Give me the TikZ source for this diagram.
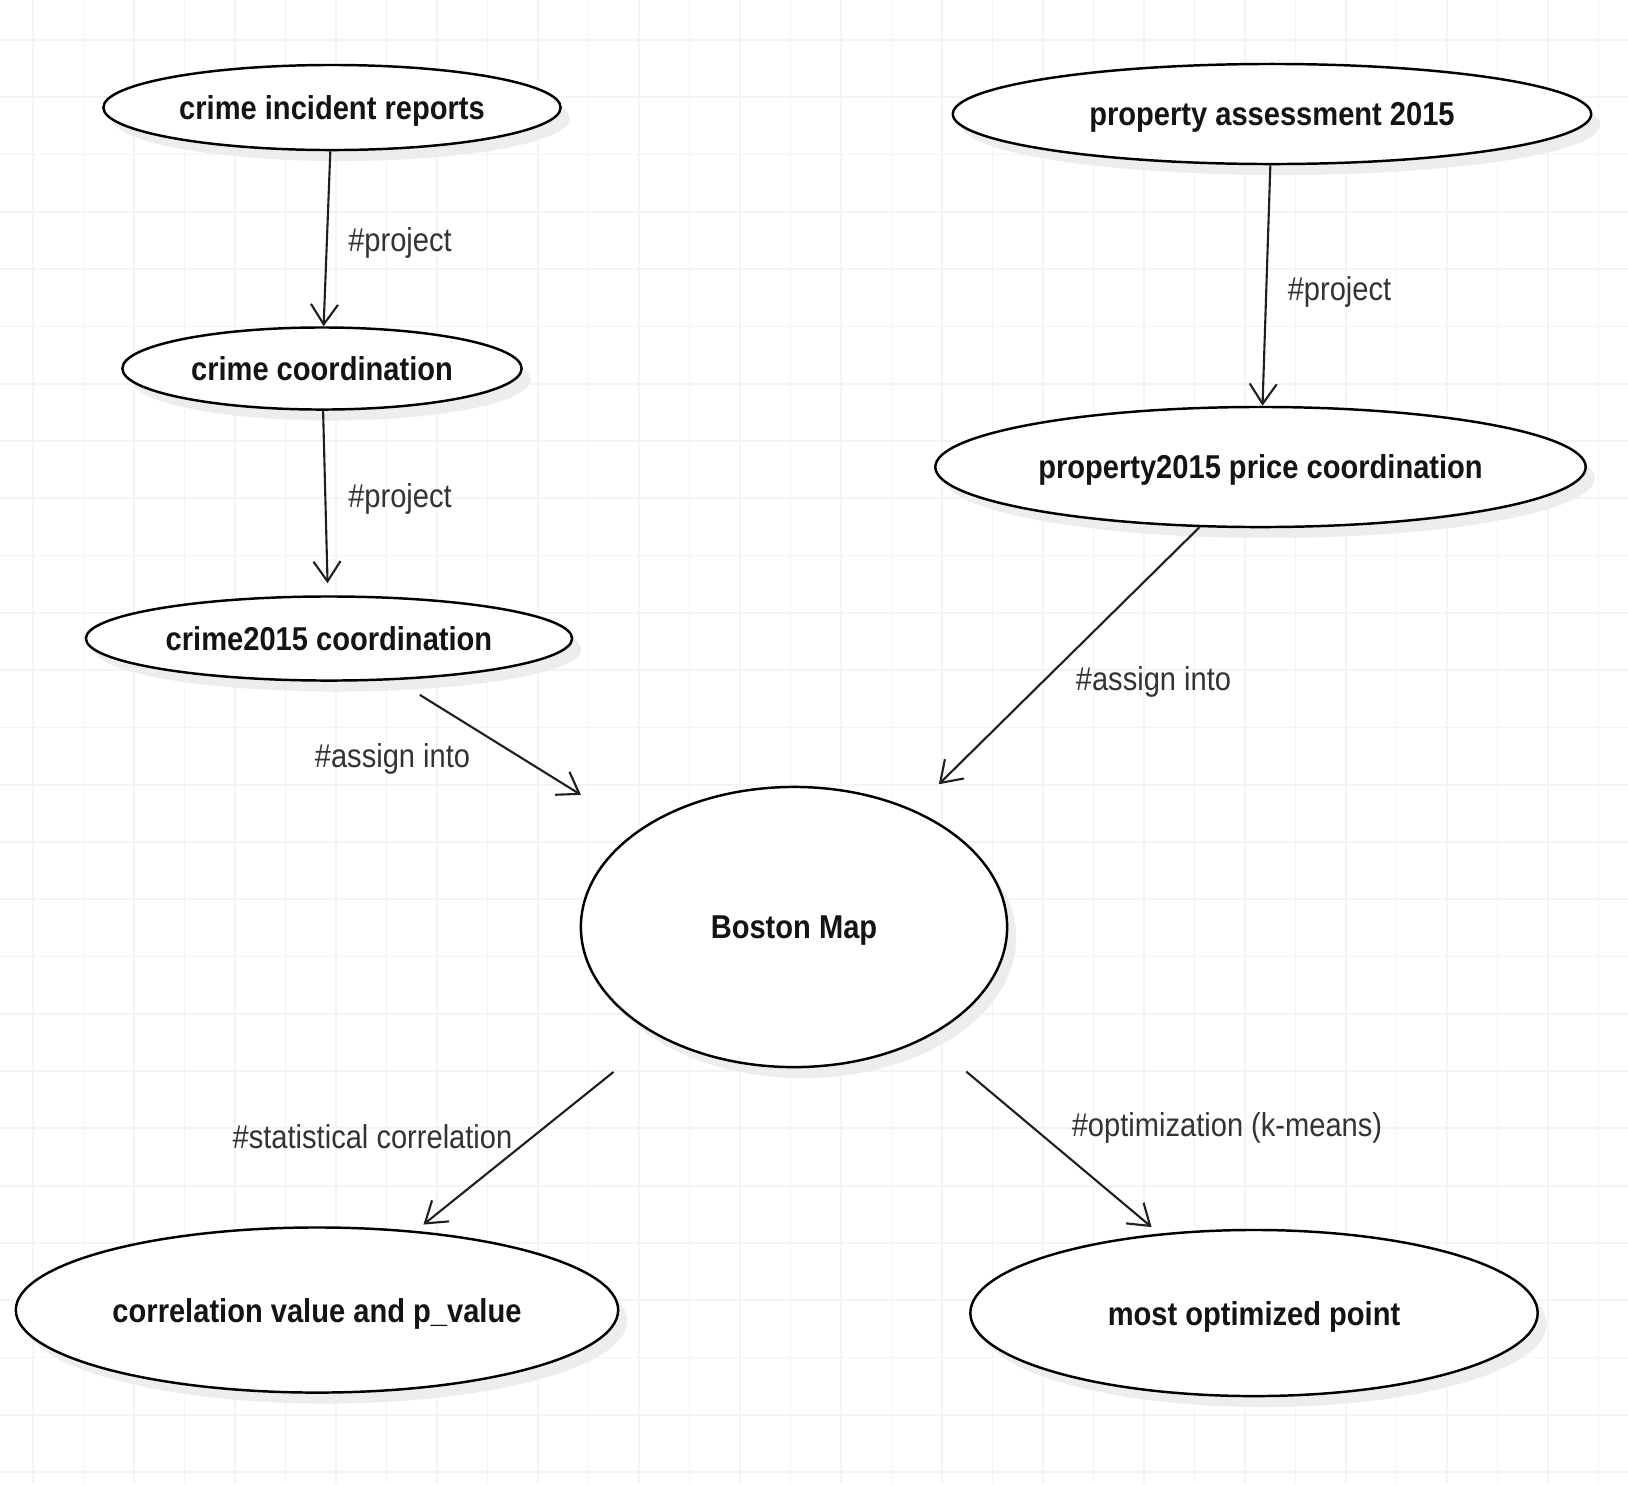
\documentclass[tikz,border=0pt]{standalone}
\usepackage{fontspec}
\setmainfont{Liberation Sans}[FakeStretch=0.88]
\usetikzlibrary{shapes.geometric, arrows.meta, shadows}

\begin{document}
\begin{tikzpicture}[
    x=0.01cm, y=-0.01cm,
    blob/.style={ellipse, draw, line width=0.7pt, fill=white, inner sep=0pt, text=black!92, text depth=0pt,
        font=\fontsize{9.4}{11}\selectfont\bfseries,
        drop shadow={shadow xshift=0.09cm, shadow yshift=-0.11cm, fill=black!7, opacity=1}},
    lbl/.style={font=\fontsize{9.4}{11}\selectfont, text=black!80, inner sep=1pt, text depth=0pt},
    arr/.style={-{Straight Barb[length=2mm, width=2.7mm]}, line width=0.6pt, color=black!88},
    gridline/.style={draw=black!4.5, line width=0.5pt}
]
    \useasboundingbox (0,0) rectangle (1628,1484);

    % Background grid
    \fill[white] (0,0) rectangle (1628,1484);
    \foreach \i in {0,...,31}
        \draw[gridline] ({33+50.5*\i},0) -- ({33+50.5*\i},1484);
    \foreach \j in {0,...,25}
        \draw[gridline] (0,{40+57.28*\j}) -- (1628,{40+57.28*\j});

    % Crime branch
    \node[blob, minimum width=4.57cm, minimum height=0.85cm] (cir) at (332,107.5) {crime incident reports};
    \node[blob, minimum width=3.99cm, minimum height=0.82cm] (cco) at (322,368.5) {crime coordination};
    \node[blob, minimum width=4.86cm, minimum height=0.84cm] (c15) at (329,638.5) {crime2015 coordination};

    % Property branch
    \node[blob, minimum width=6.38cm, minimum height=1.0cm] (pa15) at (1272,114) {property assessment 2015};
    \node[blob, minimum width=6.50cm, minimum height=1.2cm] (pp15) at (1260.5,467) {property2015 price coordination};

    % Map and results
    \node[blob, minimum width=4.26cm, minimum height=2.80cm] (bos) at (794,927) {Boston Map};
    \node[blob, minimum width=6.02cm, minimum height=1.65cm] (cor) at (317,1310) {correlation value and p\_value};
    \node[blob, minimum width=5.67cm, minimum height=1.66cm] (opt) at (1254,1313) {most optimized point};

    % Arrows
    \draw[arr] (cir) -- (cco);
    \draw[arr, shorten >=0.12cm] (cco) -- (c15);
    \draw[arr, shorten <=0.28cm, shorten >=0.67cm] (c15) -- (bos);
    \draw[arr] (pa15) -- (pp15);
    \draw[arr, shorten >=0.36cm] (pp15) -- (bos);
    \draw[arr, shorten <=0.57cm, shorten >=0.1cm] (bos) -- (cor);
    \draw[arr, shorten <=0.52cm, shorten >=0.1cm] (bos) -- (opt);

    % Labels
    \node[lbl] (lproj1) at (400,240) {\#project};
    \node[lbl] (lproj2) at (400,496) {\#project};
    \node[lbl] (lassign1) at (392.5,756) {\#assign into};
    \node[lbl] (lproj3) at (1339.5,288.5) {\#project};
    \node[lbl] (lassign2) at (1153.5,679) {\#assign into};
    \node[lbl] (lstat) at (372.5,1136) {\#statistical correlation};
    \node[lbl] (lopt) at (1227,1124) {\#optimization (k-means)};
\end{tikzpicture}
\end{document}
